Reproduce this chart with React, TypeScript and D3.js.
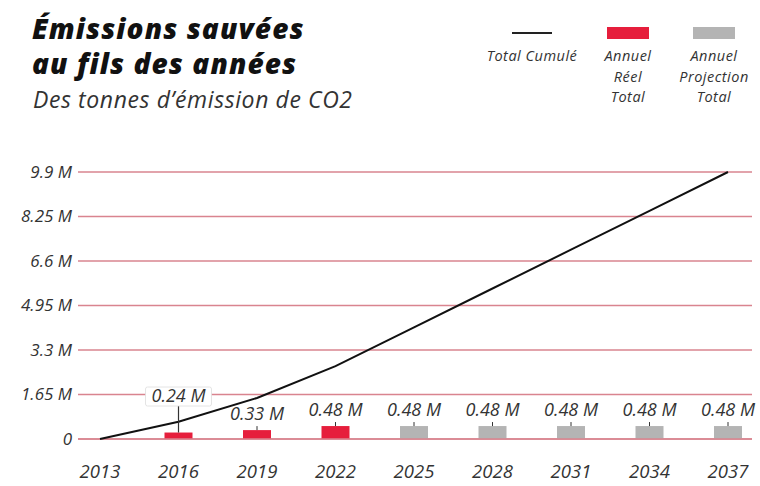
import React from 'react';
import * as d3 from 'd3';

// values (millions of tonnes)
const years = ['2013', '2016', '2019', '2022', '2025', '2028', '2031', '2034', '2037'];
const cumulative = [0, 0.64, 1.52, 2.7, 4.14, 5.58, 7.02, 8.46, 9.9];
const annualReal = [null, 0.24, 0.33, 0.48, null, null, null, null, null];
const annualProjection = [null, null, null, null, 0.48, 0.48, 0.48, 0.48, 0.48];
const yTicks = [0, 1.65, 3.3, 4.95, 6.6, 8.25, 9.9];

const W = 760;
const H = 486;
const RED = '#e61e3c';
const GREY = '#b4b4b4';
const GRID = '#d9848f';
const FONT = '"Open Sans", sans-serif';

const fmtTick = (v: number) => (v === 0 ? '0' : `${v} M`);

export default function App() {
  const x = d3.scalePoint<string>().domain(years).range([100, 728]);
  const y = d3.scaleLinear().domain([0, 9.9]).range([439, 172]);
  const barW = 28;

  const line = d3
    .line<number>()
    .x((_, i) => x(years[i]) as number)
    .y((d) => y(d));

  const bars = years.map((yr, i) => {
    const real = annualReal[i];
    const proj = annualProjection[i];
    const v = real ?? proj;
    return { yr, v, kind: real != null ? 'real' : 'proj' };
  }).filter((b) => b.v != null) as { yr: string; v: number; kind: string }[];

  return (
    <svg width={W} height={H} style={{ position: 'absolute', left: 0, top: 0, background: '#fff' }}>
      {/* title */}
      <g fontFamily={FONT} fontStyle="italic">
        <text x={32} y={39} fontSize={28} fontWeight={800} fill="#111" letterSpacing={1.1}>Émissions sauvées</text>
        <text x={32} y={74} fontSize={28} fontWeight={800} fill="#111" letterSpacing={1.1}>au fils des années</text>
        <text x={33} y={108} fontSize={23} fill="#333" letterSpacing={0.6}>Des tonnes d’émission de CO2</text>
      </g>

      {/* legend */}
      <g fontFamily={FONT} fontStyle="italic" fontSize={14.5} fill="#333" textAnchor="middle" letterSpacing={0.5}>
        <line x1={512} x2={552} y1={33} y2={33} stroke="#222" strokeWidth={2} />
        <text x={532} y={61}>Total Cumulé</text>
        <rect x={607} y={27} width={42} height={12} fill={RED} />
        <text x={628} y={61}>Annuel</text>
        <text x={628} y={81.5}>Réel</text>
        <text x={628} y={102}>Total</text>
        <rect x={693} y={27} width={42} height={12} fill={GREY} />
        <text x={714} y={61}>Annuel</text>
        <text x={714} y={81.5}>Projection</text>
        <text x={714} y={102}>Total</text>
      </g>

      {/* y grid + ticks */}
      <g fontFamily={FONT} fontStyle="italic" fontSize={17} fill="#333">
        {yTicks.map((t) => (
          <g key={t}>
            <line x1={78} x2={752} y1={y(t)} y2={y(t)} stroke={GRID} strokeWidth={1.5} />
            <text x={72} y={y(t) + 5.5} textAnchor="end">{fmtTick(t)}</text>
          </g>
        ))}
      </g>

      {/* bars */}
      {bars.map((b) => (
        <rect
          key={b.yr}
          x={(x(b.yr) as number) - barW / 2}
          y={y(b.v)}
          width={barW}
          height={y(0) - y(b.v)}
          fill={b.kind === 'real' ? RED : GREY}
        />
      ))}
      <line x1={78} x2={752} y1={y(0)} y2={y(0)} stroke={GRID} strokeWidth={1.5} />

      {/* cumulative line */}
      <path d={line(cumulative) ?? ''} fill="none" stroke="#111" strokeWidth={2} />

      {/* bar labels */}
      <g fontFamily={FONT} fontStyle="italic" fontSize={18} fill="#333" textAnchor="middle">
        {bars.map((b) => {
          const cx = x(b.yr) as number;
          const top = y(b.v);
          if (b.yr === '2016') {
            return (
              <g key={b.yr}>
                <line x1={cx} x2={cx} y1={405} y2={top} stroke="#333" strokeWidth={1.2} />
                <rect x={cx - 33} y={387} width={66} height={19} fill="#fff" stroke="#ddd" strokeWidth={0.8} rx={2} />
                <text x={cx} y={402}>{`${b.v} M`}</text>
              </g>
            );
          }
          return (
            <g key={b.yr}>
              <line x1={cx} x2={cx} y1={top - 4} y2={top} stroke="#333" strokeWidth={1} />
              <text x={cx} y={top - 10}>{`${b.v} M`}</text>
            </g>
          );
        })}
      </g>

      {/* x axis labels */}
      <g fontFamily={FONT} fontStyle="italic" fontSize={18.5} fill="#333" textAnchor="middle">
        {years.map((yr) => (
          <text key={yr} x={x(yr) as number} y={478}>{yr}</text>
        ))}
      </g>
    </svg>
  );
}
